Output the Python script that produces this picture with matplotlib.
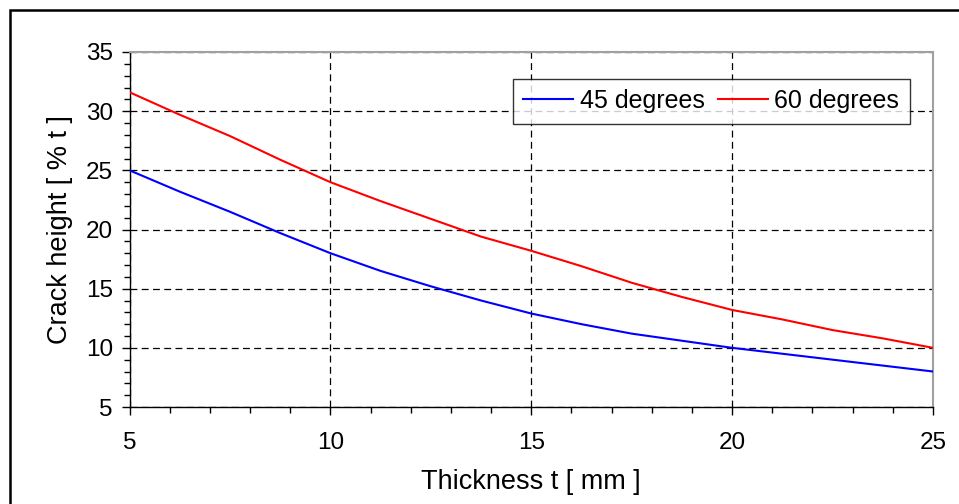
import matplotlib
matplotlib.use("Agg")
import matplotlib.pyplot as plt
from matplotlib.patches import Rectangle
from matplotlib.ticker import MultipleLocator

plt.rcParams["font.family"] = ["Liberation Sans", "DejaVu Sans"]

thickness = [5, 6.25, 7.5, 8.75, 10, 11.25, 12.5, 13.75, 15, 16.25, 17.5, 18.75, 20, 21.25, 22.5, 23.75, 25]
deg45 = [25.0, 23.2, 21.5, 19.7, 18.0, 16.5, 15.2, 14.0, 12.9, 12.0, 11.2, 10.6, 10.0, 9.5, 9.0, 8.5, 8.0]
deg60 = [31.6, 29.7, 27.9, 25.9, 24.0, 22.4, 20.9, 19.4, 18.2, 16.9, 15.5, 14.3, 13.2, 12.4, 11.5, 10.8, 10.0]

W, H = 959, 504
fig = plt.figure(figsize=(W / 100, H / 100), dpi=100)
ax = fig.add_axes([129.5 / W, (H - 407) / H, (933 - 129.5) / W, (407 - 52) / H])

ax.plot(thickness, deg45, color="#0000ff", lw=1.5, label="45 degrees", zorder=3)
ax.plot(thickness, deg60, color="#ff0000", lw=1.5, label="60 degrees", zorder=3)

ax.set_xlim(5, 25)
ax.set_ylim(5, 35)
ax.xaxis.set_major_locator(MultipleLocator(5))
ax.xaxis.set_minor_locator(MultipleLocator(1))
ax.yaxis.set_major_locator(MultipleLocator(5))
ax.yaxis.set_minor_locator(MultipleLocator(1))
ax.tick_params(which="major", length=6, width=1, labelsize=17.5)
ax.tick_params(axis="x", which="major", pad=12)
ax.tick_params(axis="y", which="major", pad=6)
ax.tick_params(which="minor", length=4, width=1)
ax.grid(which="major", color="black", lw=0.9, ls=(0, (5.5, 3.5)))

for s in ("top", "right"):
    ax.spines[s].set_color("#a0a0a0")
    ax.spines[s].set_linewidth(1.5)
for s in ("left", "bottom"):
    ax.spines[s].set_color("black")
    ax.spines[s].set_linewidth(1)

ax.set_xlabel("Thickness t [ mm ]", fontsize=19.5, labelpad=11)
ax.set_ylabel("Crack height [ % t ]", fontsize=19.5, labelpad=9)

leg = ax.legend(loc="upper left", bbox_to_anchor=(0.477, 0.925), borderaxespad=0, ncol=2,
                fontsize=18, frameon=True, fancybox=False, handlelength=2.0,
                handletextpad=0.25, columnspacing=0.55, borderpad=0.42)
leg.get_frame().set_edgecolor("black")
leg.get_frame().set_linewidth(1)

fig.add_artist(Rectangle((9.5 / W, -0.1), 1.2, (H - 9.5) / H + 0.1, transform=fig.transFigure,
                         fill=False, lw=1.8, edgecolor="black", clip_on=False))

fig.savefig("out.png", dpi=100)
